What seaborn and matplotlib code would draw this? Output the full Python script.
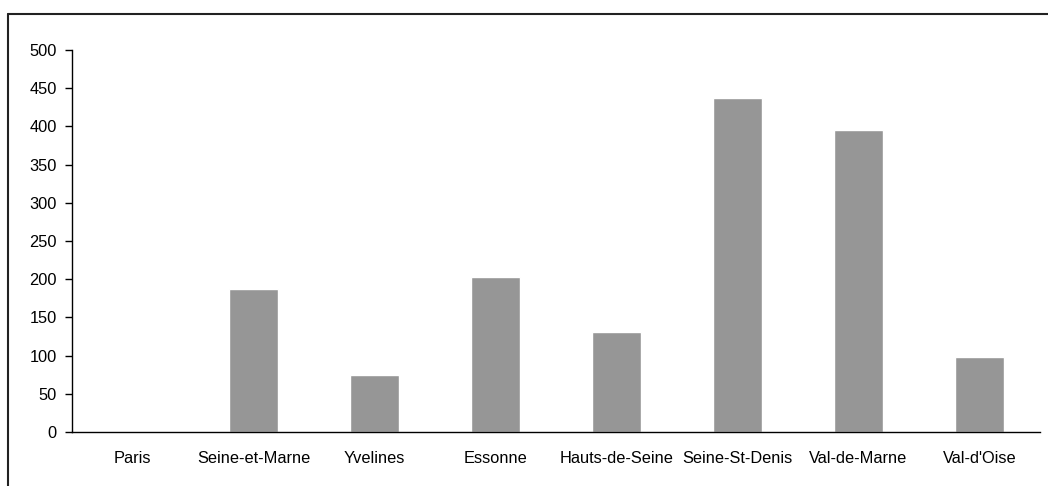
import matplotlib
matplotlib.use("Agg")
import matplotlib.pyplot as plt
from matplotlib.lines import Line2D
import seaborn as sns
import pandas as pd

departements = ["Paris", "Seine-et-Marne", "Yvelines", "Essonne", "Hauts-de-Seine",
                "Seine-St-Denis", "Val-de-Marne", "Val-d'Oise"]
valeurs = [0, 187, 74, 203, 131, 437, 395, 98]
y_ticks = [0, 50, 100, 150, 200, 250, 300, 350, 400, 450, 500]

sns.set_theme(style="white")
plt.rcParams["font.family"] = ["Liberation Sans", "DejaVu Sans"]

W, H = 1048, 486
fig = plt.figure(figsize=(W / 100, H / 100), dpi=100)
ax = fig.add_axes([72 / W, 1 - 432 / H, (1040 - 72) / W, (432 - 50) / H])

df = pd.DataFrame({"dep": departements, "val": valeurs})
sns.barplot(data=df, x="dep", y="val", color="#969696", saturation=1,
            width=0.405, ax=ax, order=departements)

ax.set_xlim(-0.5, len(departements) - 0.5)
ax.set_ylim(0, 500)
ax.set_yticks(y_ticks)
ax.set_xlabel("")
ax.set_ylabel("")

# category labels centred, tick marks between categories
ax.set_xticks(range(len(departements)))
ax.set_xticklabels(departements)
ax.set_xticks([i + 0.5 for i in range(-1, len(departements))], minor=True)
ax.tick_params(axis="x", which="major", length=0, pad=14, labelsize=11.8,
               colors="black")
ax.tick_params(axis="x", which="minor", length=5, width=1, color="black", direction="out")
ax.tick_params(axis="y", length=5, width=1, color="black", direction="out",
               labelsize=11.8, labelcolor="black", pad=6, left=True)

for s in ["top", "right"]:
    ax.spines[s].set_visible(False)
for s in ["left", "bottom"]:
    ax.spines[s].set_color("black")
    ax.spines[s].set_linewidth(1)

# outer chart border (top and left edges)
fig.add_artist(Line2D([8 / W, 8 / W], [0, 1 - 14 / H], transform=fig.transFigure,
                      color="#222222", lw=1.5))
fig.add_artist(Line2D([8 / W, 1], [1 - 14 / H, 1 - 14 / H], transform=fig.transFigure,
                      color="#222222", lw=1.5))

fig.savefig("out.png", dpi=100, facecolor="white")
